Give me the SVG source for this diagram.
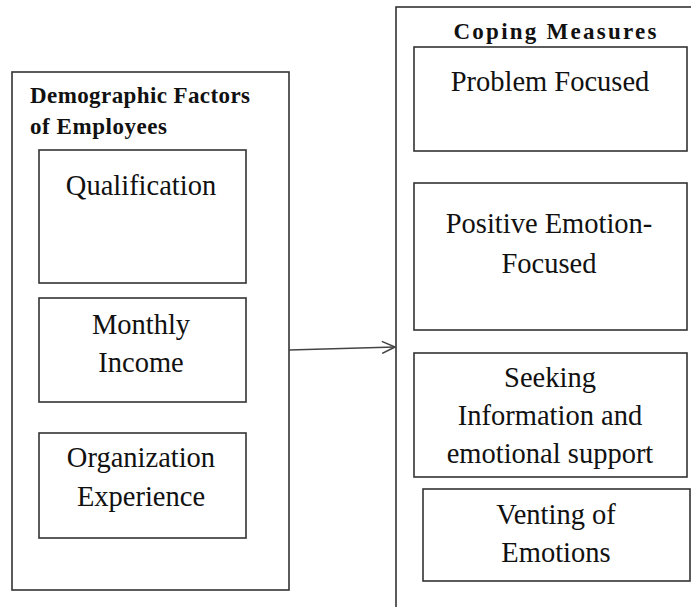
<svg xmlns="http://www.w3.org/2000/svg" width="691" height="607" viewBox="0 0 691 607">
<defs>
<style>
.box{fill:none;stroke:#333;stroke-width:1.6}
.t{font-family:"Liberation Serif","Times New Roman",serif;font-size:28.5px;fill:#111;text-anchor:middle}
.h{font-family:"Liberation Serif","Times New Roman",serif;font-size:23px;font-weight:bold;fill:#111}
.conn{fill:none;stroke:#444;stroke-width:1.6}
</style>
<marker id="arr" markerWidth="16" markerHeight="14" refX="14" refY="7" orient="auto" markerUnits="userSpaceOnUse">
<path d="M1,1 L14,7 L1,13" fill="none" stroke="#444" stroke-width="1.6"/>
</marker>
</defs>
<rect width="691" height="607" fill="#fff"/>
<g id="demographic">
<rect class="box" x="12" y="72" width="277" height="518"/>
<text class="h" x="30" y="103" textLength="220" lengthAdjust="spacing">Demographic Factors</text>
<text class="h" x="30" y="134" textLength="137" lengthAdjust="spacing">of Employees</text>
</g>
<g id="qualification">
<rect class="box" x="39" y="150" width="207" height="133"/>
<text class="t" x="141" y="195">Qualification</text>
</g>
<g id="income">
<rect class="box" x="39" y="298" width="207" height="104"/>
<text class="t" x="141" y="334">Monthly</text>
<text class="t" x="141" y="372">Income</text>
</g>
<g id="experience">
<rect class="box" x="39" y="433" width="207" height="105"/>
<text class="t" x="141" y="467">Organization</text>
<text class="t" x="141" y="506">Experience</text>
</g>
<g id="coping">
<rect class="box" x="396" y="7" width="310" height="620"/>
<text class="h" x="555" y="39" text-anchor="middle" textLength="203" lengthAdjust="spacing">Coping Measures</text>
</g>
<g id="problem">
<rect class="box" x="414" y="47" width="273" height="104"/>
<text class="t" x="550" y="91">Problem Focused</text>
</g>
<g id="positive">
<rect class="box" x="414" y="183" width="273" height="147"/>
<text class="t" x="549" y="233">Positive Emotion-</text>
<text class="t" x="549" y="273">Focused</text>
</g>
<g id="seeking">
<rect class="box" x="414" y="353" width="273" height="124"/>
<text class="t" x="550" y="387">Seeking</text>
<text class="t" x="550" y="425">Information and</text>
<text class="t" x="550" y="463">emotional support</text>
</g>
<g id="venting">
<rect class="box" x="423" y="489" width="267" height="92"/>
<text class="t" x="556" y="524">Venting of</text>
<text class="t" x="556" y="562">Emotions</text>
</g>
<g id="connectors">
<line class="conn" x1="289" y1="350" x2="395" y2="347" marker-end="url(#arr)"/>
</g>
</svg>
